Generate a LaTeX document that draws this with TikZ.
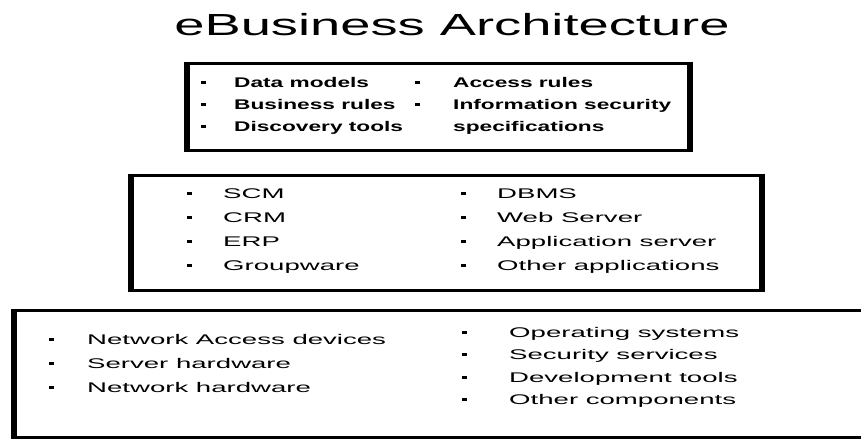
\documentclass[tikz,border=0pt]{standalone}
\usepackage{fontspec}
\setmainfont{Liberation Sans}
\newfontfamily\titlefont[FakeStretch=1.78]{Liberation Sans}
\newfontfamily\topfont[FakeStretch=1.62]{Liberation Sans}
\newfontfamily\bodyfont[FakeStretch=1.97]{Liberation Sans}
\definecolor{frame}{HTML}{000000}

\tikzset{
    layer/.style={draw=frame, line width=3pt},
    layerside/.style={draw=frame, line width=6pt},
    dot/.style={fill=frame, minimum width=5pt, minimum height=3pt, inner sep=0pt},
    topitem/.style={anchor=base west, inner sep=0pt, font=\topfont\bfseries\fontsize{14}{16}\selectfont},
    item/.style={anchor=base west, inner sep=0pt, font=\bodyfont\fontsize{14}{16}\selectfont}
}

\begin{document}
\begin{tikzpicture}[x=1pt, y=-1pt]
    \useasboundingbox (0,0) rectangle (861,440);

    \node[anchor=base, inner sep=0pt, font=\titlefont\fontsize{30.5}{34}\selectfont] (title) at (452,35) {eBusiness Architecture};

    \foreach \l / \t / \r / \b in {187/63/690/150, 131/175/762/290, 14/310/868/437} {
        \draw[layer] (\l,\t) rectangle (\r,\b);
        \draw[layerside] (\l,\t-1.5) -- (\l,\b+1.5) (\r,\t-1.5) -- (\r,\b+1.5);
    }

    \foreach \y / \txt [count=\i] in {87/Data models, 109/Business rules, 131/Discovery tools} {
        \node[dot] (core-dot-\i) at (203.5,\y-4.5) {};
        \node[topitem] (core-\i) at (234,\y) {\txt};
    }
    \foreach \y / \txt [count=\i] in {87/Access rules, 109/Information security} {
        \node[dot] (rule-dot-\i) at (417,\y-4.5) {};
        \node[topitem] (rule-\i) at (453,\y) {\txt};
    }
    \node[topitem] (rule-3) at (453,131) {specifications};

    \foreach \y / \txt [count=\i] in {198/SCM, 222/CRM, 246/ERP, 270/Groupware} {
        \node[dot] (app-dot-\i) at (189,\y-5) {};
        \node[item] (app-\i) at (223,\y) {\txt};
    }
    \foreach \y / \txt [count=\i] in {198/DBMS, 222/Web Server, 246/Application server, 270/Other applications} {
        \node[dot] (mid-dot-\i) at (463,\y-5) {};
        \node[item] (mid-\i) at (497,\y) {\txt};
    }

    \foreach \y / \txt [count=\i] in {344/Network Access devices, 368/Server hardware, 392/Network hardware} {
        \node[dot] (infra-dot-\i) at (51,\y-5) {};
        \node[item] (infra-\i) at (87,\y) {\txt};
    }
    \foreach \y / \txt [count=\i] in {337/Operating systems, 359.5/Security services, 382/Development tools, 404.5/Other components} {
        \node[dot] (sys-dot-\i) at (464,\y-5) {};
        \node[item] (sys-\i) at (509,\y) {\txt};
    }
\end{tikzpicture}
\end{document}
